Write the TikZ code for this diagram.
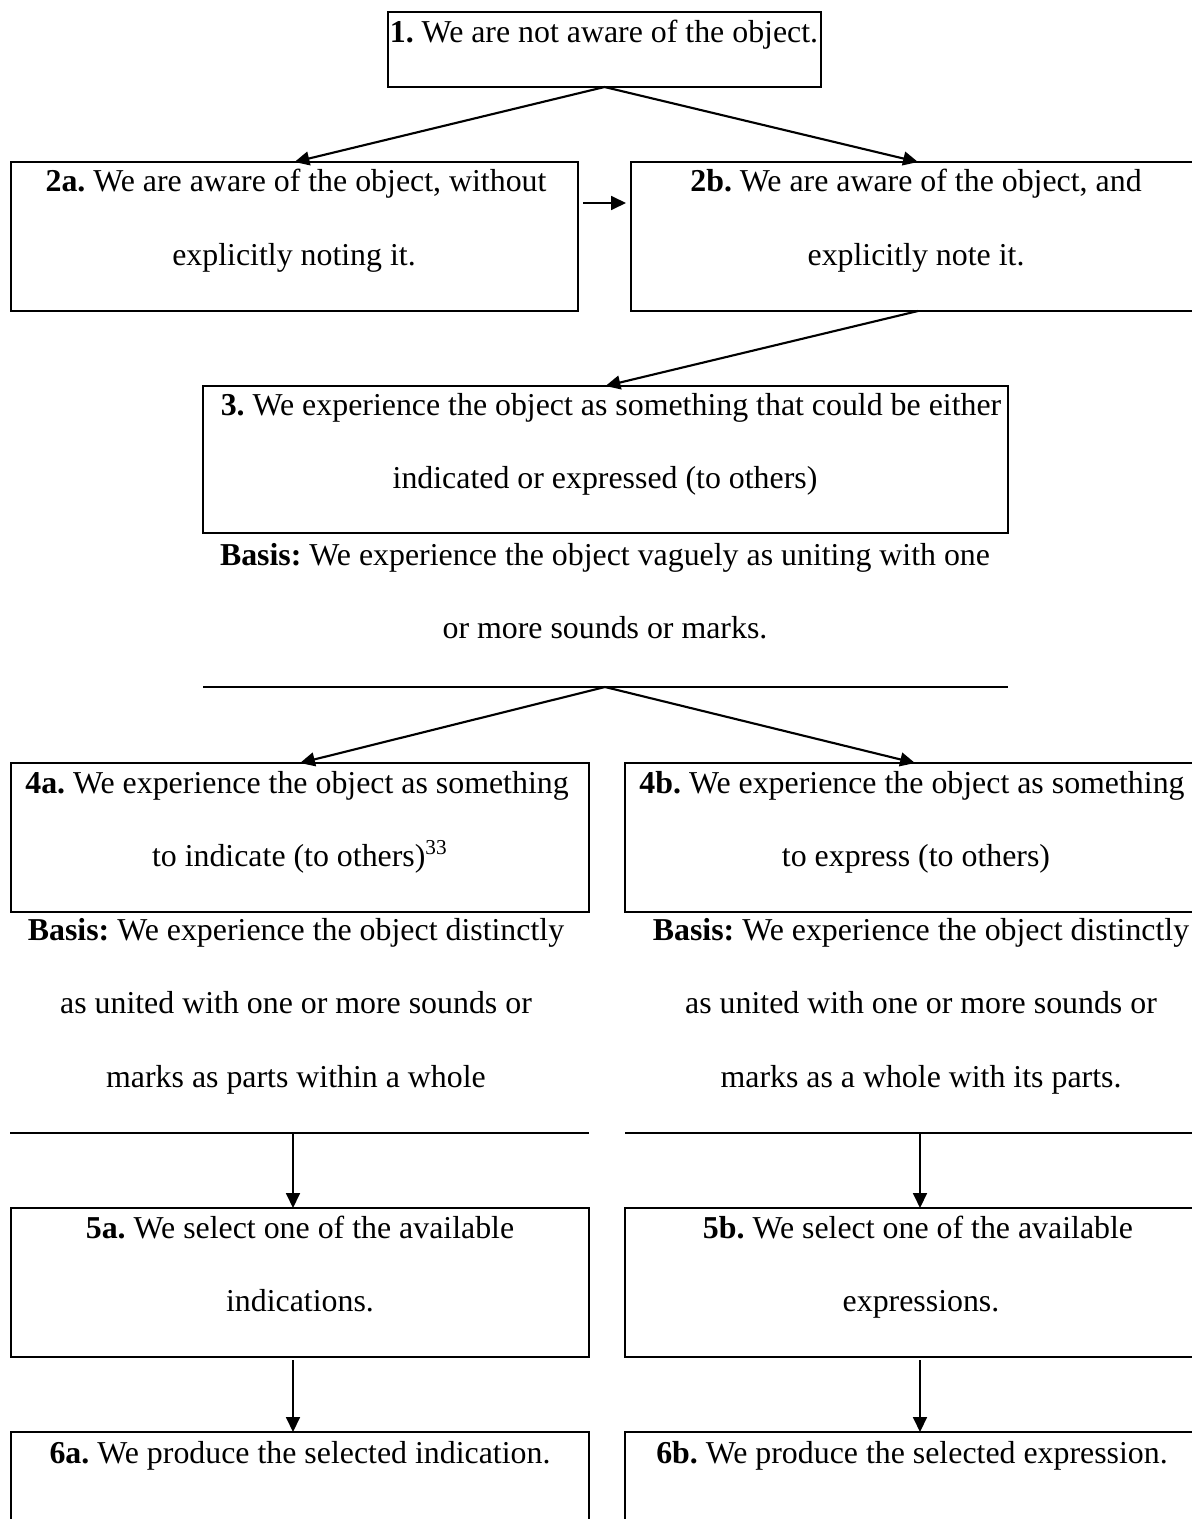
\documentclass[tikz,border=0pt]{standalone}
\usepackage{fontspec}
\setmainfont{Liberation Serif}
\usetikzlibrary{arrows.meta}
\def\pxu{0.3766pt}
\tikzset{
  box/.style={draw, line width=0.8pt, inner sep=0pt, outer sep=0pt},
  txt/.style={font=\fontsize{12}{14}\selectfont\frenchspacing, inner sep=0pt, anchor=base},
  conn/.style={line width=0.8pt},
  arr/.style={line width=0.8pt, -{Triangle[length=5.6pt,width=5.2pt]}},
}
\newcommand\boxat[5]{\node[box, minimum width={(#4-#2)*\pxu}, minimum height={(#5-#3)*\pxu}] (#1) at ({(#2+#4)/2},{(#3+#5)/2}) {};}
\begin{document}
\begin{tikzpicture}[x=\pxu, y=-\pxu]
\useasboundingbox (0,0) rectangle (1192,1519);
\clip (0,0) rectangle (1192,1519);
% boxes
\boxat{b1}{388}{12}{821}{87}
\boxat{b2a}{11}{162}{578}{311}
\boxat{b2b}{631}{162}{1205}{311}
\boxat{b3}{203}{386}{1008}{533}
\boxat{b4a}{11}{763}{589}{912}
\boxat{b4b}{625}{763}{1205}{912}
\boxat{b5a}{11}{1208}{589}{1357}
\boxat{b5b}{625}{1208}{1205}{1357}
\boxat{b6a}{11}{1432}{589}{1581}
\boxat{b6b}{625}{1432}{1205}{1581}
% texts
\node[txt] (t1) at (604,43) {\textbf{1.} We are not aware of the object.};
\node[txt] (t2a1) at (296,192) {\textbf{2a.} We are aware of the object, without};
\node[txt] (t2a2) at (294,265) {explicitly noting it.};
\node[txt] (t2b1) at (916,192) {\textbf{2b.} We are aware of the object, and};
\node[txt] (t2b2) at (916,265) {explicitly note it.};
\node[txt] (t31) at (611,415) {\textbf{3.} We experience the object as something that could be either};
\node[txt] (t32) at (605,488) {indicated or expressed (to others)};
\node[txt] (tb31) at (605,565) {\textbf{Basis:} We experience the object vaguely as uniting with one};
\node[txt] (tb32) at (605,638) {or more sounds or marks.};
\node[txt] (t4a1) at (297,793) {\textbf{4a.} We experience the object as something};
\node[txt] (t4a2) at (300,866) {to indicate (to others)\textsuperscript{33}};
\node[txt] (t4b1) at (912,793) {\textbf{4b.} We experience the object as something};
\node[txt] (t4b2) at (916,866) {to express (to others)};
\node[txt] (tb4a1) at (296,940) {\textbf{Basis:} We experience the object distinctly};
\node[txt] (tb4a2) at (296,1013) {as united with one or more sounds or};
\node[txt] (tb4a3) at (296,1087) {marks as parts within a whole};
\node[txt] (tb4b1) at (921,940) {\textbf{Basis:} We experience the object distinctly};
\node[txt] (tb4b2) at (921,1013) {as united with one or more sounds or};
\node[txt] (tb4b3) at (921,1087) {marks as a whole with its parts.};
\node[txt] (t5a1) at (300,1238) {\textbf{5a.} We select one of the available};
\node[txt] (t5a2) at (300,1311) {indications.};
\node[txt] (t5b1) at (918,1238) {\textbf{5b.} We select one of the available};
\node[txt] (t5b2) at (921,1311) {expressions.};
\node[txt] (t6a) at (300,1463) {\textbf{6a.} We produce the selected indication.};
\node[txt] (t6b) at (912,1463) {\textbf{6b.} We produce the selected expression.};
% connector points
\coordinate (p2a) at (583,203);
\coordinate (p2b) at (626,203);
\coordinate (l3w) at (203,687);
\coordinate (l3e) at (1008,687);
\coordinate (p3) at (605,687);
\coordinate (l4aw) at (10,1133);
\coordinate (l4ae) at (589,1133);
\coordinate (l4bw) at (625,1133);
\coordinate (l4be) at (1205,1133);
\coordinate (p4a) at (293,1133);
\coordinate (p4b) at (920,1133);
\coordinate (p5a) at (293,1360);
\coordinate (p5b) at (920,1360);
% connectors
\draw[arr] (b1.south) -- (b2a.north);
\draw[arr] (b1.south) -- (b2b.north);
\draw[arr] (p2a) -- (p2b);
\draw[arr] (b2b.south) -- (b3.north);
\draw[conn] (l3w) -- (l3e);
\draw[arr] (p3) -- (b4a.north);
\draw[arr] (p3) -- (b4b.north);
\draw[conn] (l4aw) -- (l4ae);
\draw[conn] (l4bw) -- (l4be);
\draw[arr] (p4a) -- (p4a |- b5a.north);
\draw[arr] (p4b) -- (p4b |- b5b.north);
\draw[arr] (p5a) -- (p5a |- b6a.north);
\draw[arr] (p5b) -- (p5b |- b6b.north);
\end{tikzpicture}
\end{document}
